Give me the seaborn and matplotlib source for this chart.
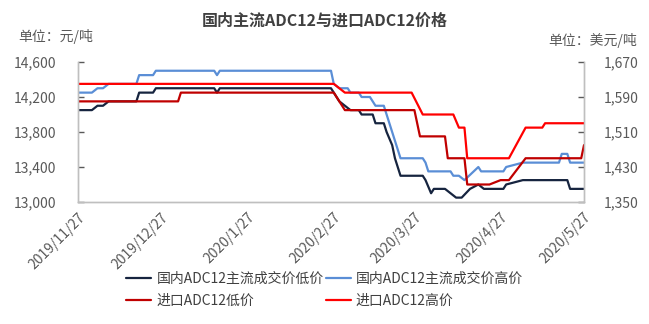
import matplotlib
matplotlib.use("Agg")
import matplotlib.pyplot as plt
import matplotlib.dates as mdates
from matplotlib.ticker import FixedLocator, FuncFormatter
import seaborn as sns
import pandas as pd

sns.set_theme(style="white")
plt.rcParams['font.family'] = ['Noto Sans CJK SC', 'DejaVu Sans']

# ---------------- data ----------------
dom_low_dates = ["2019-11-27", "2019-12-02", "2019-12-04", "2019-12-06", "2019-12-08", "2019-12-18",
                 "2019-12-19", "2019-12-24", "2019-12-25", "2020-01-15", "2020-01-16", "2020-01-17",
                 "2020-02-26", "2020-02-27", "2020-02-29", "2020-03-02", "2020-03-04", "2020-03-07",
                 "2020-03-08", "2020-03-12", "2020-03-13", "2020-03-16", "2020-03-17", "2020-03-19",
                 "2020-03-20", "2020-03-22", "2020-03-30", "2020-03-31", "2020-04-02", "2020-04-03",
                 "2020-04-07", "2020-04-09", "2020-04-11", "2020-04-13", "2020-04-16", "2020-04-19",
                 "2020-04-21", "2020-04-28", "2020-04-29", "2020-05-05", "2020-05-21", "2020-05-22",
                 "2020-05-27"]
dom_low = [14050, 14050, 14100, 14100, 14150, 14150,
           14250, 14250, 14300, 14300, 14250, 14300,
           14300, 14250, 14150, 14100, 14050, 14050,
           14000, 14000, 13900, 13900, 13800, 13650,
           13500, 13300, 13300, 13250, 13100, 13150,
           13150, 13100, 13050, 13050, 13150, 13200,
           13150, 13150, 13200, 13250, 13250, 13150,
           13150]

dom_high_dates = ["2019-11-27", "2019-12-02", "2019-12-04", "2019-12-06", "2019-12-08", "2019-12-18",
                  "2019-12-19", "2019-12-24", "2019-12-25", "2020-01-15", "2020-01-16", "2020-01-17",
                  "2020-02-26", "2020-02-27", "2020-02-29", "2020-03-03", "2020-03-04", "2020-03-07",
                  "2020-03-08", "2020-03-11", "2020-03-12", "2020-03-13", "2020-03-16", "2020-03-17",
                  "2020-03-19", "2020-03-20", "2020-03-22", "2020-03-30", "2020-03-31", "2020-04-01",
                  "2020-04-09", "2020-04-10", "2020-04-12", "2020-04-14", "2020-04-19", "2020-04-20",
                  "2020-04-28", "2020-04-29", "2020-05-05", "2020-05-18", "2020-05-19", "2020-05-21",
                  "2020-05-22", "2020-05-27"]
dom_high = [14250, 14250, 14300, 14300, 14350, 14350,
            14450, 14450, 14500, 14500, 14450, 14500,
            14500, 14350, 14300, 14300, 14250, 14250,
            14200, 14200, 14150, 14100, 14100, 14000,
            13800, 13700, 13500, 13500, 13450, 13350,
            13350, 13300, 13300, 13250, 13400, 13350,
            13350, 13400, 13450, 13450, 13550, 13550,
            13450, 13450]

imp_low_dates = ["2019-11-27", "2020-01-02", "2020-01-03", "2020-02-27", "2020-03-02", "2020-03-27",
                 "2020-03-29", "2020-04-07", "2020-04-08", "2020-04-14", "2020-04-15", "2020-04-23",
                 "2020-04-27", "2020-04-30", "2020-05-06", "2020-05-26", "2020-05-27"]
imp_low = [1580, 1580, 1600, 1600, 1560, 1560,
           1500, 1500, 1450, 1450, 1390, 1390,
           1400, 1400, 1450, 1450, 1480]

imp_high_dates = ["2019-11-27", "2020-02-27", "2020-03-02", "2020-03-26", "2020-03-30", "2020-04-10",
                  "2020-04-12", "2020-04-14", "2020-04-15", "2020-04-30", "2020-05-06", "2020-05-12",
                  "2020-05-13", "2020-05-27"]
imp_high = [1620, 1620, 1600, 1600, 1550, 1550,
            1520, 1520, 1450, 1450, 1520, 1520,
            1530, 1530]

x_tick_labels = ["2019/11/27", "2019/12/27", "2020/1/27", "2020/2/27",
                 "2020/3/27", "2020/4/27", "2020/5/27"]
left_ticks = [13000, 13400, 13800, 14200, 14600]
right_ticks = [1350, 1430, 1510, 1590, 1670]

names = ["国内ADC12主流成交价低价", "国内ADC12主流成交价高价", "进口ADC12低价", "进口ADC12高价"]
colors = ["#16243f", "#5a8ed6", "#c00000", "#ff0000"]

# ---------------- figure ----------------
fig = plt.figure(figsize=(6.49, 3.24), dpi=100)
ax = fig.add_axes([78/649, 1 - 202/324, (584-78)/649, 140/324])
ax2 = ax.twinx()

df_dl = pd.DataFrame({"date": pd.to_datetime(dom_low_dates), "price": dom_low})
df_dh = pd.DataFrame({"date": pd.to_datetime(dom_high_dates), "price": dom_high})
df_il = pd.DataFrame({"date": pd.to_datetime(imp_low_dates), "price": imp_low})
df_ih = pd.DataFrame({"date": pd.to_datetime(imp_high_dates), "price": imp_high})

lw = 1.6
sns.lineplot(data=df_dl, x="date", y="price", ax=ax, color=colors[0], lw=lw, label=names[0], legend=False)
sns.lineplot(data=df_dh, x="date", y="price", ax=ax, color=colors[1], lw=lw, label=names[1], legend=False)
sns.lineplot(data=df_il, x="date", y="price", ax=ax2, color=colors[2], lw=lw, label=names[2], legend=False)
sns.lineplot(data=df_ih, x="date", y="price", ax=ax2, color=colors[3], lw=lw, label=names[3], legend=False)

start = pd.Timestamp("2019-11-27")
end = pd.Timestamp("2020-05-27")
ax.set_xlim(start, end)
ax.set_ylim(13000, 14600)
ax2.set_ylim(1350, 1670)

tick_dates = pd.to_datetime([s.replace("/", "-") for s in x_tick_labels])
ax.xaxis.set_major_locator(FixedLocator(mdates.date2num(tick_dates)))
ax.set_xticklabels(x_tick_labels, rotation=45, ha="right", rotation_mode="anchor")

ax.yaxis.set_major_locator(FixedLocator(left_ticks))
ax.yaxis.set_major_formatter(FuncFormatter(lambda v, p: f"{int(v):,}"))
ax2.yaxis.set_major_locator(FixedLocator(right_ticks))
ax2.yaxis.set_major_formatter(FuncFormatter(lambda v, p: f"{int(v):,}"))

for a in (ax, ax2):
    a.set_xlabel("")
    a.set_ylabel("")
    a.grid(False)
    a.spines["top"].set_visible(False)
    for s in ("left", "right", "bottom"):
        a.spines[s].set_color("#bfbfbf")
        a.spines[s].set_linewidth(1.0)
    a.tick_params(colors="#595959", labelsize=10, direction="in", length=4, width=1)
    for t in a.get_xticklines() + a.get_yticklines():
        t.set_color("#bfbfbf")
ax.tick_params(axis="x", pad=6)
ax.tick_params(axis="y", pad=16)
ax2.tick_params(axis="y", pad=14)
for lab in ax.get_yticklabels():
    lab.set_color("#595959")
for lab in ax2.get_yticklabels():
    lab.set_color("#595959")
for lab in ax.get_xticklabels():
    lab.set_color("#595959")

# title and unit labels
fig.text(0.5, 1 - 21/324, "国内主流ADC12与进口ADC12价格", ha="center", va="center",
         fontsize=11.5, fontweight="bold", color="#404040")
fig.text(18/649, 1 - 36/324, "单位：元/吨", ha="left", va="center", fontsize=10, color="#595959")
fig.text(637/649, 1 - 41/324, "单位：美元/吨", ha="right", va="center", fontsize=10, color="#595959")

# legend
h1, l1 = ax.get_legend_handles_labels()
h2, l2 = ax2.get_legend_handles_labels()
handles = [h1[0], h2[0], h1[1], h2[1]]
labels = [l1[0], l2[0], l1[1], l2[1]]
fig.legend(handles, labels, ncol=2, loc="center", bbox_to_anchor=(0.5, 1 - 290/324),
           frameon=False, fontsize=10, handlelength=1.8, handletextpad=0.35,
           columnspacing=0.15, labelspacing=0.55, labelcolor="#404040")

fig.savefig("out.png", dpi=100)
